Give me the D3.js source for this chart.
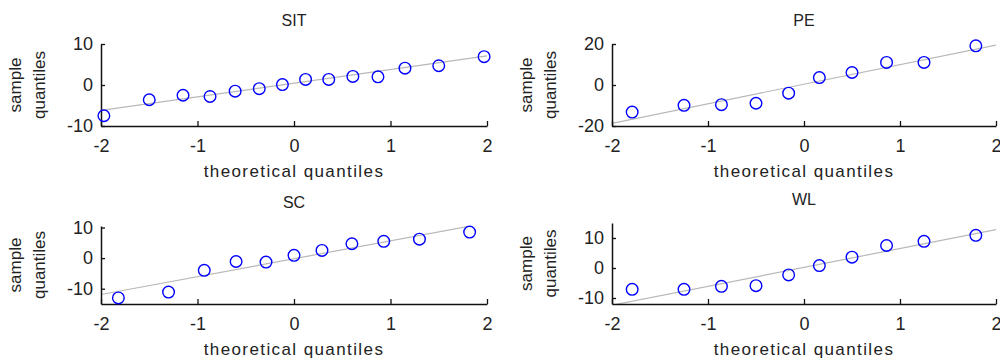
<!DOCTYPE html>
<html>
<head>
<meta charset="utf-8">
<script src="https://cdn.jsdelivr.net/npm/d3@7"></script>
<style>
  body { margin: 0; background: #fff; }
  text { font-family: Arial, "Liberation Sans", sans-serif; fill: #222; }
</style>
</head>
<body>
<div id="main-chart"></div>
<script>
const width = 1000;
const height = 360;

// theoretical quantiles (x) and sample quantiles (y)
const sitX = [-1.97, -1.5, -1.15, -0.87, -0.61, -0.36, -0.12, 0.12, 0.36, 0.61, 0.87, 1.15, 1.5, 1.97];
const sitY = [-7.5, -3.6, -2.5, -2.8, -1.5, -0.9, 0.1, 1.35, 1.35, 2.1, 2.0, 4.1, 4.7, 6.9];

const peX = [-1.79, -1.25, -0.86, -0.5, -0.16, 0.16, 0.5, 0.86, 1.25, 1.79];
const peY = [-13.2, -9.9, -9.6, -8.9, -4.0, 3.6, 6.1, 11.0, 11.0, 19.1];

const scX = [-1.82, -1.3, -0.93, -0.6, -0.29, 0, 0.29, 0.6, 0.93, 1.3, 1.82];
const scY = [-13.0, -11.1, -4.0, -1.1, -1.3, 0.9, 2.5, 4.7, 5.5, 6.2, 8.5];

const wlX = [-1.79, -1.25, -0.86, -0.5, -0.16, 0.16, 0.5, 0.86, 1.25, 1.79];
const wlY = [-7.1, -7.1, -6.1, -5.9, -2.3, 0.8, 3.6, 7.5, 8.9, 10.9];

// reference lines, [x, y] at both ends
const sitLine = [[-2, -6.2], [2, 7.1]];
const peLine = [[-2, -18.7], [2, 19.5]];
const scLine = [[-2, -11.9], [2, 11.5]];
const wlLine = [[-2, -12.4], [2, 12.8]];

const xTicks = [-2, -1, 0, 1, 2];
const sitTicks = [-10, 0, 10];
const peTicks = [-20, 0, 20];
const scTicks = [-10, 0, 10];
const wlTicks = [-10, 0, 10];

const panels = [
  { title: "SIT", xs: sitX, ys: sitY, line: sitLine, yDomain: [-10, 10], yTicks: sitTicks,
    left: 101, right: 487, top: 44, bottom: 126 },
  { title: "PE", xs: peX, ys: peY, line: peLine, yDomain: [-20, 20], yTicks: peTicks,
    left: 612, right: 996, top: 44, bottom: 126 },
  { title: "SC", xs: scX, ys: scY, line: scLine, yDomain: [-15, 10.5], yTicks: scTicks,
    left: 101, right: 487, top: 226, bottom: 304 },
  { title: "WL", xs: wlX, ys: wlY, line: wlLine, yDomain: [-12, 15], yTicks: wlTicks,
    left: 612, right: 996, top: 223, bottom: 304 },
];

const svg = d3
  .select("#main-chart")
  .append("svg")
  .attr("width", width)
  .attr("height", height);

const drawPanel = (p, i) => {
  const x = d3.scaleLinear().domain([-2, 2]).range([p.left, p.right]);
  const y = d3.scaleLinear().domain(p.yDomain).range([p.bottom, p.top]);
  const g = svg.append("g");

  g.append("clipPath")
    .attr("id", `clip-${i}`)
    .append("rect")
    .attr("x", p.left)
    .attr("y", p.top)
    .attr("width", p.right - p.left)
    .attr("height", p.bottom - p.top);

  // reference line
  g.append("line")
    .attr("clip-path", `url(#clip-${i})`)
    .attr("x1", x(p.line[0][0]))
    .attr("y1", y(p.line[0][1]))
    .attr("x2", x(p.line[1][0]))
    .attr("y2", y(p.line[1][1]))
    .attr("stroke", "#b8b8b8")
    .attr("stroke-width", 1.2);

  // axes, ticks pointing inward like matlab
  const xAxis = g
    .append("g")
    .attr("transform", `translate(0, ${p.bottom})`)
    .call(d3.axisBottom(x).tickValues(xTicks).tickSizeInner(-5).tickSizeOuter(0).tickPadding(13));
  const yAxis = g
    .append("g")
    .attr("transform", `translate(${p.left}, 0)`)
    .call(d3.axisLeft(y).tickValues(p.yTicks).tickSizeInner(-4).tickSizeOuter(0).tickPadding(8));

  [xAxis, yAxis].forEach((a) => {
    a.select(".domain").attr("stroke", "#111").attr("stroke-width", 1.5);
    a.selectAll(".tick line").attr("stroke", "#111").attr("stroke-width", 1.3);
    a.selectAll(".tick text")
      .attr("fill", "#222")
      .style("font-size", "18px")
      .style("font-family", 'Arial, "Liberation Sans", sans-serif')
      .text((d) => (d < 0 ? "-" + Math.abs(d) : d));
  });

  // points
  g.selectAll(".pt")
    .data(p.xs.map((d, k) => [d, p.ys[k]]))
    .join("circle")
    .attr("class", "pt")
    .attr("cx", (d) => x(d[0]))
    .attr("cy", (d) => y(d[1]))
    .attr("r", 5.8)
    .attr("fill", "none")
    .attr("stroke", "#0000ff")
    .attr("stroke-width", 1.4);

  const midX = (p.left + p.right) / 2;
  const midY = (p.top + p.bottom) / 2;

  g.append("text")
    .attr("x", midX)
    .attr("y", p.top - 18)
    .attr("text-anchor", "middle")
    .style("font-size", "16px")
    .text(p.title);

  g.append("text")
    .attr("x", midX)
    .attr("y", p.bottom + 51)
    .attr("text-anchor", "middle")
    .style("font-size", "17px")
    .style("letter-spacing", "1.4px")
    .text("theoretical quantiles");

  const yl = g
    .append("text")
    .attr("transform", `translate(${p.left - 72}, ${midY}) rotate(-90)`)
    .attr("text-anchor", "middle")
    .style("font-size", "17px");
  yl.append("tspan").attr("x", 0).attr("y", -8).text("sample");
  yl.append("tspan").attr("x", 0).attr("y", 16).text("quantiles");
};

panels.forEach(drawPanel);
</script>
</body>
</html>
